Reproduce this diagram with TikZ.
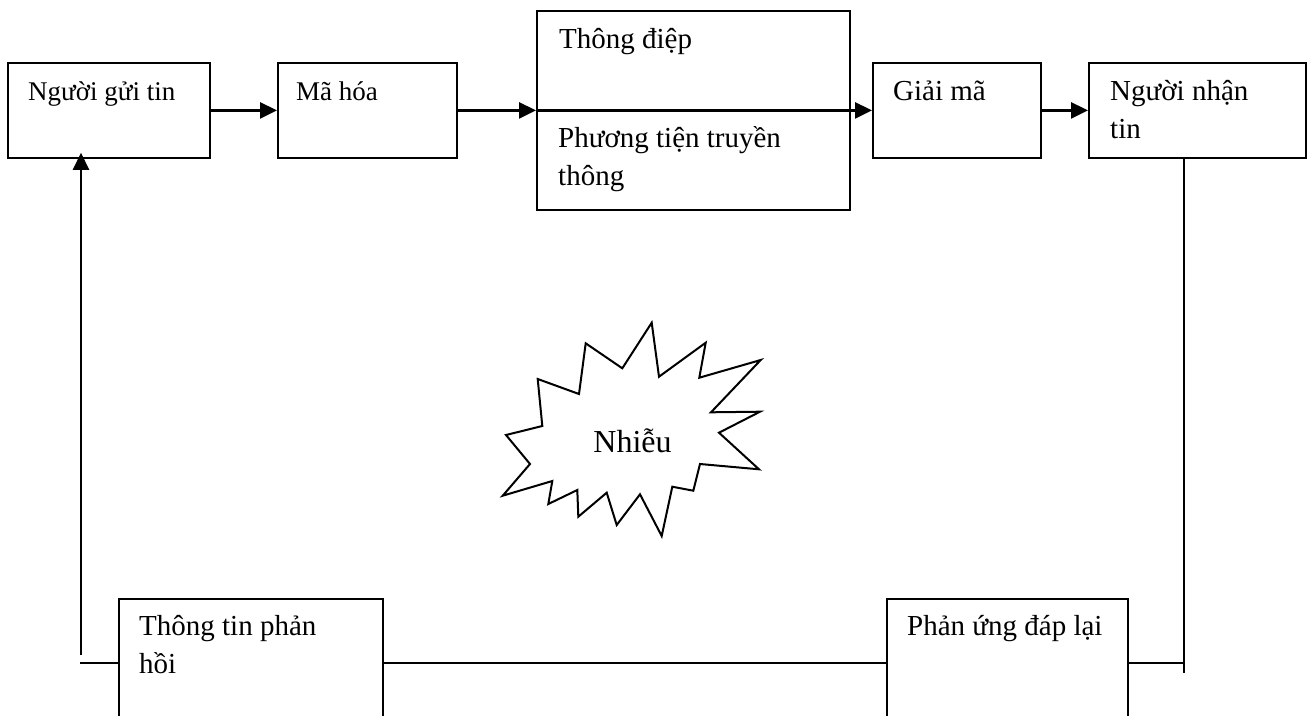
\documentclass[tikz,border=0pt]{standalone}
\usepackage{fontspec}
\setmainfont{Liberation Serif}
\usetikzlibrary{arrows.meta,calc}

\begin{document}
\begin{tikzpicture}[x=1pt,y=-1pt,
  box/.style={draw, line width=1.8pt, rectangle, inner sep=0pt, anchor=north west},
  txt/.style={anchor=base west, inner sep=0pt, align=left,
              font=\fontsize{29}{38}\selectfont},
  small/.style={font=\fontsize{27}{38}\selectfont},
  link/.style={line width=2.6pt},
  flow/.style={link, -{Triangle[length=17pt,width=16pt]}}]

\useasboundingbox (0,0) rectangle (1311,715);

% boxes of the chain
\node[box, minimum width=202pt, minimum height=95pt] (sender)   at (7,62)    {};
\node[box, minimum width=179pt, minimum height=95pt] (encode)   at (277,62)  {};
\node[box, minimum width=313pt, minimum height=199pt] (message) at (536,10)  {};
\node[box, minimum width=168pt, minimum height=95pt] (decode)   at (872,62)  {};
\node[box, minimum width=217pt, minimum height=95pt] (receiver) at (1088,62) {};
\node[box, minimum width=264pt, minimum height=128pt] (feedback) at (118,598) {};
\node[box, minimum width=241pt, minimum height=128pt] (response) at (886,598) {};

% box texts (two-line texts sit on their last baseline)
\node[txt, small] (tsender) at ($(sender.north west)+(21,38)$)   {Người gửi tin};
\node[txt, small] (tencode) at ($(encode.north west)+(19,38)$)   {Mã hóa};
\node[txt] (tmessage)  at ($(message.north west)+(23,38)$)  {Thông điệp};
\node[txt] (tmedium)   at ($(message.north west)+(22,175)$) {Phương tiện truyền\\thông};
\node[txt] (tdecode)   at ($(decode.north west)+(21,38)$)   {Giải mã};
\node[txt] (treceiver) at ($(receiver.north west)+(22,76)$) {Người nhận\\tin};
\node[txt] (tfeedback) at ($(feedback.north west)+(21,75)$) {Thông tin phản\\hồi};
\node[txt] (tresponse) at ($(response.north west)+(21,37)$) {Phản ứng đáp lại};

% forward chain
\draw[flow] (sender.east) -- (encode.west);
\draw[flow] (encode.east) -- (message.west);
\draw[flow] (message.west) -- (decode.west);
\draw[flow] (decode.east) -- (receiver.west);

% return path
\coordinate (rdrop) at (1184,673);
\coordinate (fcorner) at (80,662);
\coordinate (fup) at (81,655);
\draw[link] (receiver.south -| rdrop) -- (rdrop);
\draw[link] (response.east) -- (response.east -| rdrop);
\draw[link] (response.west) -- (feedback.east);
\draw[link] (feedback.west) -- (feedback.west -| fcorner);
\draw[flow, shorten >=-6pt] (fup) -- (sender.south -| fup);

% noise burst
\draw[line width=2pt, line join=miter, fill=white]
  (651.7,322.7) -- (659,376.7) -- (705.7,342.7) -- (699.3,377.7) --
  (760.7,360) -- (711,412.3) -- (760,411.7) -- (719,432.7) --
  (759,469.3) -- (700,464) -- (693.3,490.7) -- (672.3,486.7) --
  (661.7,536) -- (640,494.3) -- (616.7,525) -- (606.7,492.7) --
  (578.3,516.7) -- (577.3,490) -- (548.3,504) -- (552.3,481) --
  (502.7,495.7) -- (530,464) -- (506,435) -- (542.3,426) --
  (537.7,379) -- (579,394) -- (585.7,343.3) -- (622.3,368.3) -- cycle;
\node[txt, anchor=base, font=\fontsize{32}{38}\selectfont] (noise) at (632.5,452) {Nhiễu};

\end{tikzpicture}
\end{document}
